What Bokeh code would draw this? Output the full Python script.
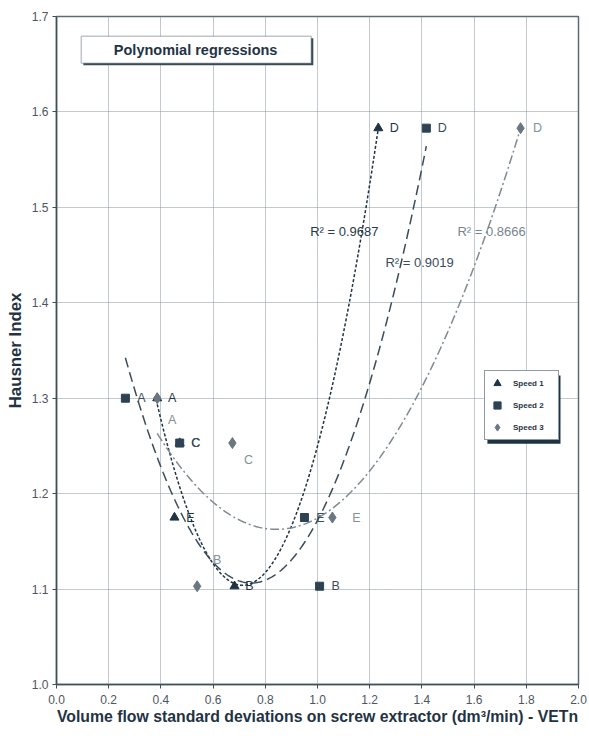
import numpy as np
from bokeh.plotting import figure
from bokeh.models import (ColumnDataSource, FixedTicker, Legend, LegendItem, BoxAnnotation,
                          Label, PrintfTickFormatter, Range1d)
from bokeh.core.properties import value
from bokeh.embed import file_html
from bokeh.resources import INLINE

# ---------------- data ----------------
materials = ["A", "B", "C", "D", "E"]
hausner = [1.300, 1.103, 1.253, 1.583, 1.175]
speed1_x = [0.386, 0.682, 0.472, 1.233, 0.452]
speed2_x = [0.264, 1.008, 0.472, 1.417, 0.950]
speed3_x = [0.386, 0.539, 0.674, 1.778, 1.057]
series_names = ["Speed 1", "Speed 2", "Speed 3"]
r2_texts = ["R\u00b2 = 0.9687", "R\u00b2 = 0.9019", "R\u00b2 = 0.8666"]
x_ticks = [0.0, 0.2, 0.4, 0.6, 0.8, 1.0, 1.2, 1.4, 1.6, 1.8, 2.0]
y_ticks = [1.0, 1.1, 1.2, 1.3, 1.4, 1.5, 1.6, 1.7]
title_text = "Polynomial regressions"
x_title = "Volume flow standard deviations on screw extractor (dm\u00b3/min) - VETn"
y_title = "Hausner Index"

# ---------------- styles ----------------
FONT = "Liberation Sans"
NAVY = "#1f3344"
marker_types = ["triangle", "square", "diamond"]
marker_sizes = [9, 8, 11]
marker_colors = ["#1f3344", "#2d4354", "#6a7680"]
line_colors = ["#1f3344", "#3a4c5a", "#7f8a92"]
line_dashes = ["3 2", "10 5", "9 3 2 3"]
label_colors = ["#1f3344", "#3a4c5a", "#858f97"]
label_dx = [[15, 15, 16, 16, 16], [16, 16, 16, 16, 16], [15, 20, 16, 17, 24]]
label_dy = [[0, 0, 0, 0, 0], [0, 0, 0, 0, 0], [22, -26, 17, 0, 0]]
r2_pos = [(1.103, 1.4746), (1.391, 1.442), (1.667, 1.4746)]
r2_colors = ["#2a3a48", "#3a4c5a", "#7a858e"]

p = figure(width=589, height=740, x_range=Range1d(0, 2), y_range=Range1d(1.0, 1.7),
           output_backend="svg", toolbar_location=None,
           min_border_left=56, min_border_right=11, min_border_top=16, min_border_bottom=56)
p.background_fill_color = "white"
p.border_fill_color = "white"
p.outline_line_color = "#5b6b78"
p.outline_line_width = 1.5

for ax, ticks in ((p.xaxis, x_ticks), (p.yaxis, y_ticks)):
    ax.ticker = FixedTicker(ticks=ticks)
    ax.formatter = PrintfTickFormatter(format="%.1f")
    ax.axis_line_color = "#3e4f5c"
    ax.axis_line_width = 1.5
    ax.major_tick_line_color = "#3e4f5c"
    ax.major_tick_out = 4
    ax.major_tick_in = 0
    ax.minor_tick_line_color = None
    ax.major_label_text_font = FONT
    ax.major_label_text_font_size = "12px"
    ax.major_label_text_color = "#4d5660"
    ax.axis_label_text_font = FONT
    ax.axis_label_text_font_style = "bold"
    ax.axis_label_text_color = NAVY
p.xaxis.axis_label_text_font_size = "15.8px"
p.yaxis.axis_label_text_font_size = "16.8px"
p.xaxis.axis_label = x_title
p.yaxis.axis_label = y_title
p.xaxis.major_label_standoff = 6
p.xaxis.axis_label_standoff = 1
p.yaxis.major_label_standoff = 4
p.yaxis.axis_label_standoff = 4

for g in (p.xgrid, p.ygrid):
    g.grid_line_color = "#8494a0"
    g.grid_line_dash = "1 1"
    g.grid_line_width = 1

# title box
shadow = BoxAnnotation(left=0.103, right=0.984, bottom=1.6489, top=1.6773,
                       fill_color="#3a4c5a", fill_alpha=1, line_color=None, level="underlay")
tbox = BoxAnnotation(left=0.095, right=0.976, bottom=1.651, top=1.6794,
                     fill_color="white", fill_alpha=1, line_color="#2b3f50", line_width=1.5,
                     level="underlay")
p.add_layout(shadow)
p.add_layout(tbox)
p.add_layout(Label(x=0.533, y=1.6654, text=title_text, text_align="center",
                   text_baseline="middle", text_font=FONT, text_font_size="14.5px",
                   text_font_style="bold", text_color=NAVY))

xs_all = [speed1_x, speed2_x, speed3_x]
renderers = []
for i, xs in enumerate(xs_all):
    coef = np.polyfit(xs, hausner, 2)
    xx = np.linspace(min(xs), max(xs), 200)
    p.line(xx, np.polyval(coef, xx), line_color=line_colors[i], line_dash=line_dashes[i],
           line_width=1.5)

for i, xs in enumerate(xs_all):
    src = ColumnDataSource(dict(x=xs, y=hausner, t=materials, dx=label_dx[i], dy=label_dy[i]))
    r = p.scatter("x", "y", source=src, marker=marker_types[i], size=marker_sizes[i],
                  fill_color=marker_colors[i], line_color=marker_colors[i])
    renderers.append(r)
    p.text("x", "y", text="t", source=src, x_offset="dx", y_offset="dy",
           text_align="center", text_baseline="middle", text_font=value(FONT),
           text_font_size="12.5px", text_color=label_colors[i])

for i, t in enumerate(r2_texts):
    src = ColumnDataSource(dict(x=[r2_pos[i][0]], y=[r2_pos[i][1]], t=[t]))
    p.text("x", "y", text="t", source=src, text_align="center", text_baseline="middle",
           text_font=value(FONT), text_font_size="13px", text_color=r2_colors[i])

# legend shadow
p.add_layout(BoxAnnotation(left=1.651, right=1.931, bottom=1.2524, top=1.3237,
                           fill_color="#1f3344", fill_alpha=1, line_color=None))
legend = Legend(items=[LegendItem(label=series_names[i], renderers=[renderers[i]]) for i in range(3)],
                location=(428, 244), orientation="vertical",
                glyph_width=18, glyph_height=18, label_height=18, label_width=42,
                label_standoff=7, padding=3, spacing=4, margin=0,
                label_text_font=FONT, label_text_font_size="8px", label_text_font_style="bold",
                label_text_color=NAVY, border_line_color=NAVY, border_line_width=1.2,
                background_fill_color="white", background_fill_alpha=1)
p.add_layout(legend)

open("out.html", "w").write(file_html(p, INLINE))
